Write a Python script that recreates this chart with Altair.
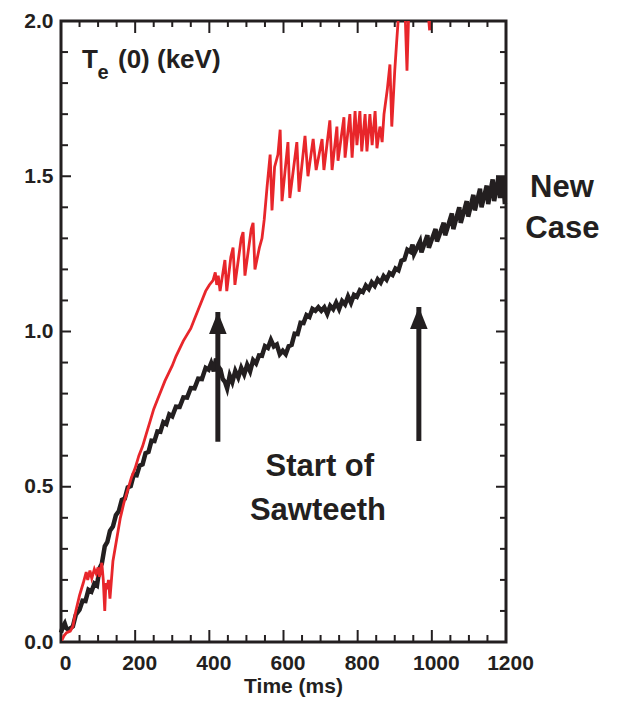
import altair as alt
import pandas as pd

# ---------------- data ----------------
red_t = [0, 8, 15, 25, 32, 40, 50, 60, 68, 72, 78, 83, 90, 95, 100, 104, 110, 114, 118, 121,
         124, 128, 132, 140, 150, 160, 170, 180, 190, 200, 210, 220, 230, 240, 250, 260, 270,
         280, 290, 300, 310, 320, 330, 340, 350, 360, 370, 380, 390, 400, 410, 416, 420, 424,
         429, 438, 442, 447, 458, 464, 469, 486, 491, 496, 513, 518, 523, 535, 542, 548, 556,
         564, 569, 576, 585, 591, 596, 612, 617, 636, 642, 658, 666, 680, 688, 704, 709, 725,
         731, 744, 747, 763, 766, 779, 785, 793, 798, 806, 811, 820, 825, 833, 839, 847, 852,
         860, 866, 871, 880, 887, 892, 900, 905, 912, 920, 926, 933, 937, 941, 960, 985, 994,
         998, 1010]
red_v = [0.00, 0.02, 0.03, 0.035, 0.05, 0.10, 0.15, 0.19, 0.225, 0.20, 0.23, 0.205, 0.235,
         0.22, 0.24, 0.21, 0.255, 0.20, 0.10, 0.19, 0.17, 0.20, 0.14, 0.26, 0.33, 0.40, 0.45,
         0.49, 0.53, 0.56, 0.60, 0.63, 0.67, 0.71, 0.75, 0.78, 0.81, 0.84, 0.865, 0.89, 0.92,
         0.945, 0.97, 0.99, 1.01, 1.04, 1.07, 1.10, 1.13, 1.15, 1.165, 1.19, 1.15, 1.18, 1.13,
         1.20, 1.23, 1.13, 1.24, 1.27, 1.15, 1.30, 1.32, 1.18, 1.33, 1.35, 1.20, 1.27, 1.30,
         1.36, 1.47, 1.57, 1.39, 1.53, 1.57, 1.65, 1.42, 1.61, 1.43, 1.61, 1.45, 1.63, 1.50,
         1.62, 1.52, 1.62, 1.52, 1.68, 1.52, 1.66, 1.55, 1.69, 1.56, 1.70, 1.56, 1.71, 1.60,
         1.71, 1.58, 1.70, 1.58, 1.70, 1.60, 1.71, 1.59, 1.66, 1.61, 1.70, 1.78, 1.86, 1.66,
         1.84, 1.93, 2.05, 2.15, 2.10, 1.84, 2.00, 2.12, 2.20, 2.10, 1.97, 2.10, 2.25]

black_t = [0, 5, 10, 14, 20, 26, 32, 40, 50, 58, 66, 74, 82, 90, 97, 104, 110, 118, 125, 132,
           140, 148, 156, 164, 172, 180, 188, 196, 204, 212, 220, 228, 236, 244, 252, 260, 268,
           276, 284, 292, 300, 310, 320, 330, 340, 350, 360, 370, 380, 390, 398, 405, 412, 418,
           424, 430, 436, 442, 448, 455, 462, 470, 478, 486, 494, 502, 510, 518, 526, 534, 542,
           550, 558, 566, 574, 582, 590, 598, 606, 614, 622, 630, 638, 646, 654, 662, 670, 678,
           686, 694, 702, 710, 718, 726, 734, 742, 750, 758, 766, 774, 782, 790, 798, 806, 814,
           822, 830, 838, 846, 854, 862, 870, 878, 886, 894, 902, 910, 918, 926, 934, 942, 948,
           952, 968, 972, 988, 992, 1010, 1014, 1032, 1036, 1054, 1058, 1074, 1078, 1094, 1098,
           1112, 1116, 1130, 1134, 1148, 1152, 1164, 1168, 1180, 1184, 1192, 1197]
black_v = [0.03, 0.05, 0.06, 0.045, 0.04, 0.045, 0.05, 0.088, 0.104, 0.133, 0.132, 0.168,
           0.162, 0.188, 0.182, 0.238, 0.252, 0.308, 0.322, 0.358, 0.372, 0.408, 0.422, 0.458,
           0.462, 0.498, 0.502, 0.538, 0.537, 0.568, 0.572, 0.608, 0.612, 0.648, 0.647, 0.678,
           0.677, 0.708, 0.702, 0.733, 0.727, 0.758, 0.757, 0.788, 0.787, 0.818, 0.817, 0.848,
           0.847, 0.883, 0.877, 0.898, 0.872, 0.913, 0.887, 0.878, 0.847, 0.838, 0.817, 0.858,
           0.837, 0.873, 0.852, 0.883, 0.862, 0.893, 0.872, 0.908, 0.897, 0.923, 0.922, 0.953,
           0.947, 0.973, 0.952, 0.958, 0.927, 0.938, 0.927, 0.953, 0.957, 0.993, 0.992, 1.028,
           1.027, 1.053, 1.047, 1.073, 1.067, 1.078, 1.067, 1.078, 1.057, 1.083, 1.072, 1.093,
           1.072, 1.098, 1.087, 1.113, 1.092, 1.118, 1.112, 1.133, 1.127, 1.148, 1.137, 1.158,
           1.147, 1.168, 1.157, 1.178, 1.167, 1.188, 1.182, 1.203, 1.197, 1.228, 1.232, 1.263,
           1.257, 1.28, 1.25, 1.29, 1.255, 1.31, 1.27, 1.33, 1.29, 1.35, 1.31, 1.38, 1.33, 1.40,
           1.35, 1.42, 1.37, 1.44, 1.39, 1.46, 1.40, 1.47, 1.41, 1.49, 1.42, 1.50, 1.43, 1.50,
           1.41]

x_major = [0, 200, 400, 600, 800, 1000, 1200]
x_minor = [50, 100, 150, 250, 300, 350, 450, 500, 550, 650, 700, 750, 850, 900, 950,
           1050, 1100, 1150]
y_major = [0.0, 0.5, 1.0, 1.5, 2.0]
y_minor = [0.1, 0.2, 0.3, 0.4, 0.6, 0.7, 0.8, 0.9, 1.1, 1.2, 1.3, 1.4, 1.6, 1.7, 1.8, 1.9]

# arrows: time, bottom, tip
arrow_t = [423, 965]
arrow_lo = [0.645, 0.647]
arrow_hi = [1.063, 1.079]

# annotation labels: text, time, value
note_text = ["Start of", "Sawteeth", "New", "Case"]
note_t = [698, 693, 1351, 1352]
note_v = [0.535, 0.393, 1.433, 1.301]

INK = "#231f20"
RED = "#e8262b"
FONT = "Liberation Sans"

W, H = 445, 621
xs = alt.Scale(domain=[0, 1200], nice=False, zero=False)
ys = alt.Scale(domain=[0, 2], nice=False, zero=False)

red_df = pd.DataFrame({"t": red_t, "v": red_v})
black_df = pd.DataFrame({"t": black_t, "v": black_v})
arrow_df = pd.DataFrame({"t": arrow_t, "lo": arrow_lo, "hi": arrow_hi})
note_df = pd.DataFrame({"text": note_text, "t": note_t, "v": note_v})

x_axis = alt.Axis(values=x_major, format="d", labelFont=FONT, labelFontSize=21,
                  labelFontWeight="bold", labelColor=INK, labelPadding=10, labelOffset=4,
                  labelFlush=False, ticks=False, tickSize=0, domain=False, grid=False,
                  title="Time (ms)", titleFont=FONT, titleFontSize=21, titleFontWeight="bold",
                  titleColor=INK, titlePadding=2, titleX=232)
y_axis = alt.Axis(values=y_major, format=".1f", labelFont=FONT, labelFontSize=21,
                  labelFontWeight="bold", labelColor=INK, labelPadding=8, ticks=False,
                  tickSize=0, domain=False, grid=False, title=None)


def X(field):
    return alt.X(field, type="quantitative", scale=xs, axis=x_axis)


def Y(field):
    return alt.Y(field, type="quantitative", scale=ys, axis=y_axis)


black = alt.Chart(black_df).mark_line(color=INK, strokeWidth=4.5).encode(x=X("t"), y=Y("v"))
red = alt.Chart(red_df).mark_line(color=RED, strokeWidth=2.8, clip=True).encode(
    x=X("t"), y=Y("v"))

shaft = alt.Chart(arrow_df).mark_rule(color=INK, strokeWidth=5).encode(
    x=X("t"), y=Y("lo"), y2=alt.Y2("hi"))
head = alt.Chart(arrow_df).mark_point(
    shape="M0,0L0.8,2L-0.8,2Z", filled=True, color=INK, opacity=1, size=484, strokeWidth=0
).encode(x=X("t"), y=Y("hi"))

notes = alt.Chart(note_df).mark_text(
    font=FONT, fontSize=31, fontWeight="bold", color=INK, align="center",
    baseline="alphabetic"
).encode(x=X("t"), y=Y("v"), text="text:N")

# y-axis label T_e (0) (keV) made of three pieces
lab_df = pd.DataFrame({"text": ["T", "e", "(0) (keV)"], "t": [56.6, 98.5, 153.7],
                       "v": [1.849, 1.812, 1.849], "size": [26, 20, 26]})
label = alt.Chart(lab_df).mark_text(
    font=FONT, fontWeight="bold", color=INK, align="left", baseline="alphabetic"
).encode(
    x=X("t"), y=Y("v"), text="text:N",
    size=alt.Size("size:Q", scale=None, legend=None),
)


def xticks(vals, length, top):
    df = pd.DataFrame({"t": vals})
    if top:
        y1, y2 = alt.value(0), alt.value(length)
    else:
        y1, y2 = alt.value(H), alt.value(H - length)
    return alt.Chart(df).mark_rule(color=INK, strokeWidth=2).encode(x=X("t"), y=y1, y2=y2)


def yticks(vals, length, right):
    df = pd.DataFrame({"v": vals})
    if right:
        x1, x2 = alt.value(W), alt.value(W - length)
    else:
        x1, x2 = alt.value(0), alt.value(length)
    return alt.Chart(df).mark_rule(color=INK, strokeWidth=2).encode(y=Y("v"), x=x1, x2=x2)


ticks = [
    xticks(x_major, 12, False), xticks(x_minor, 7, False),
    xticks(x_major, 12, True), xticks(x_minor, 6, True),
    yticks(y_major, 10, False), yticks(y_minor, 7, False),
    yticks(y_major, 10, True), yticks(y_minor, 6, True),
]

chart = alt.layer(black, red, *ticks, shaft, head, notes, label).properties(
    width=W, height=H,
    autosize=alt.AutoSizeParams(type="none"),
    padding={"left": 61, "top": 21, "right": 111, "bottom": 64},
    background="white",
).configure_view(stroke=INK, strokeWidth=3)

chart.save("out.html", embed_options={"renderer": "svg", "actions": False})
